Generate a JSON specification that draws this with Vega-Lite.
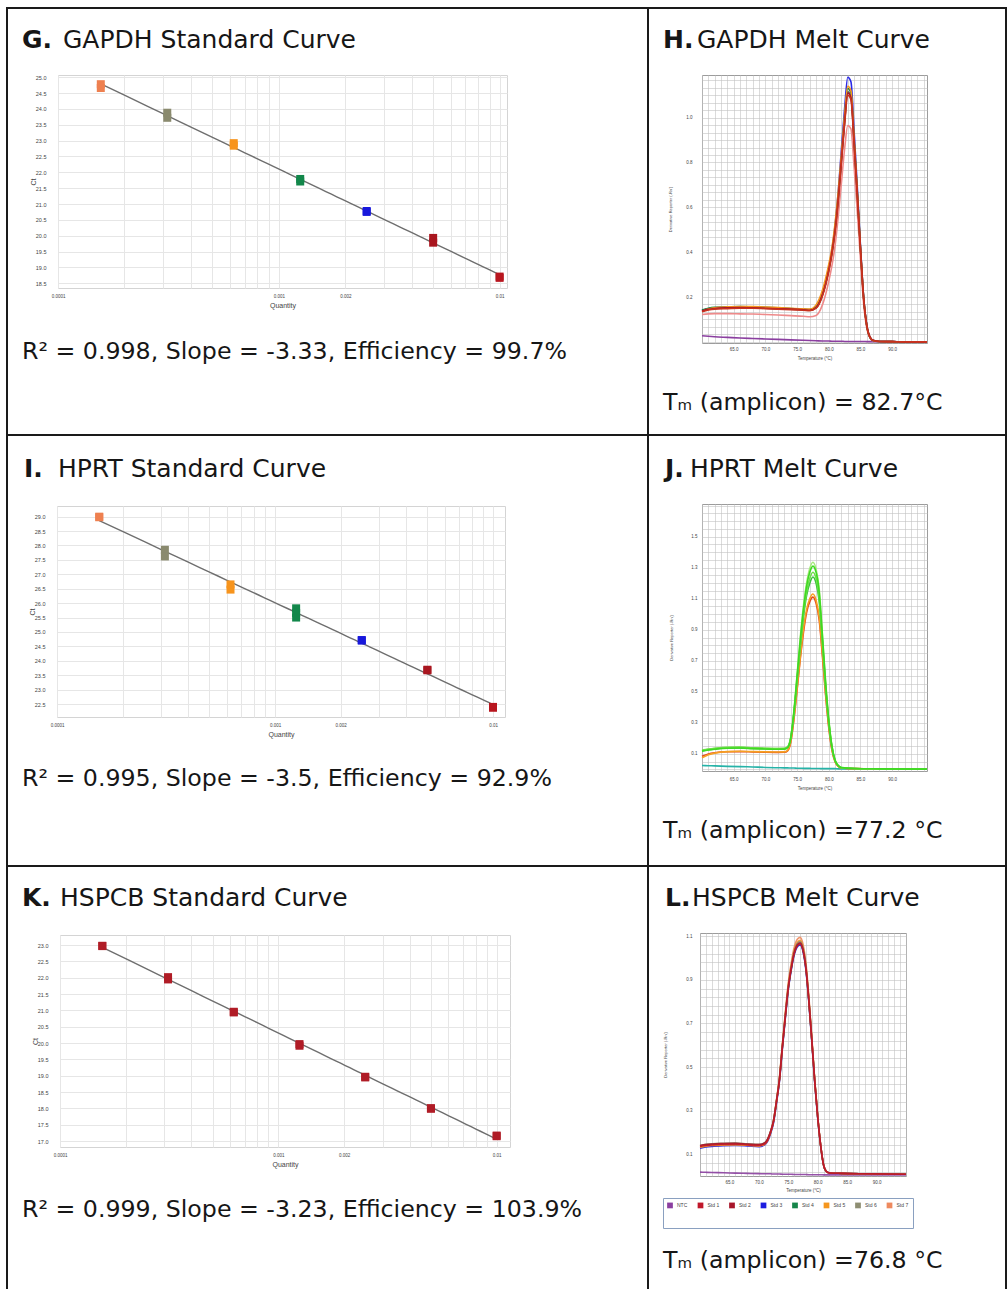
{
"$schema": "https://vega.github.io/schema/vega-lite/v6.json",
"padding": {"left": 6, "top": 7, "right": 0, "bottom": 0},
"background": "white",
"spacing": 0,
"resolve": {"scale": {"color": "independent"}},
"config": {
  "view": {"stroke": null},
  "font": "Liberation Sans",
  "title": {"font": "DejaVu Sans", "color": "#161616", "fontWeight": "normal", "frame": "group", "anchor": "start"},
  "axis": {"labelFont": "Liberation Sans", "titleFont": "Liberation Sans", "labelColor": "#444", "titleColor": "#444", "titleFontWeight": "normal", "ticks": false, "domain": false, "labelFlush": false, "labelOverlap": false, "grid": true}
},
"vconcat": [
{"width": 1001, "height": 2, "data": {"values": []}, "mark": "point", "view": {"fill": "#1a1a1a"}},
{"hconcat": [
 {"width": 2, "height": 425, "data": {"values": []}, "mark": "point", "view": {"fill": "#1a1a1a"}},
 {"columns": 2, "bounds": "flush", "align": "each", "spacing": 0,
  "resolve": {"scale": {"color": "independent"}},
  "concat": [
   {"width": 50, "height": 66, "data": {"values": []}, "mark": "point",
    "title": {"text": "G.", "fontWeight": "bold", "fontSize": 25, "offset": -44, "dx": 14}},
   {"width": 589, "height": 66, "data": {"values": []}, "mark": "point",
    "title": {"text": "GAPDH Standard Curve", "fontSize": 25, "offset": -44, "dx": 5}},
   {"width": 50, "height": 213, "data": {"values": []}, "mark": "point"},
   {"width": 449, "height": 213, "view": {"stroke": "#d4d4d4"},
    "data": {"values": [
     {"q": 0.00015625, "ct": 24.78, "s": "Std 7"}, {"q": 0.00015625, "ct": 24.66, "s": "Std 7"},
     {"q": 0.0003125, "ct": 23.88, "s": "Std 6"}, {"q": 0.0003125, "ct": 23.72, "s": "Std 6"},
     {"q": 0.000625, "ct": 22.92, "s": "Std 5"}, {"q": 0.000625, "ct": 22.84, "s": "Std 5"},
     {"q": 0.00125, "ct": 21.79, "s": "Std 4"}, {"q": 0.00125, "ct": 21.71, "s": "Std 4"},
     {"q": 0.0025, "ct": 20.78, "s": "Std 3"}, {"q": 0.0025, "ct": 20.75, "s": "Std 3"},
     {"q": 0.005, "ct": 19.93, "s": "Std 2"}, {"q": 0.005, "ct": 19.78, "s": "Std 2"},
     {"q": 0.01, "ct": 18.71, "s": "Std 1"}, {"q": 0.01, "ct": 18.67, "s": "Std 1"}
    ]},
    "encoding": {
     "x": {"field": "q", "type": "quantitative", "scale": {"type": "log", "domain": [0.0001, 0.0108], "nice": false},
      "axis": {"values": [0.0001,0.0002,0.0003,0.0004,0.0005,0.0006,0.0007,0.0008,0.0009,0.001,0.002,0.003,0.004,0.005,0.006,0.007,0.008,0.009,0.01], "format": "~g",
       "labelExpr": "datum.value == 0.0001 || datum.value == 0.001 || datum.value == 0.002 || datum.value == 0.01 ? datum.label : ''",
       "gridColor": "#e6e6e6", "labelFontSize": 4.5, "labelPadding": 5, "title": "Quantity", "titleFontSize": 7, "titlePadding": 4}},
     "y": {"field": "ct", "type": "quantitative", "scale": {"domain": [18.35, 25.07], "nice": false, "zero": false},
      "axis": {"values": [18.5,19,19.5,20,20.5,21,21.5,22,22.5,23,23.5,24,24.5,25], "format": ".1f", "gridColor": "#e6e6e6", "labelFontSize": 5.5, "labelPadding": 12, "title": "Ct", "titleFontSize": 7, "titlePadding": -1}}
    },
    "layer": [
     {"transform": [{"regression": "ct", "on": "q", "method": "log"}], "mark": {"type": "line", "color": "#6e6e6e", "strokeWidth": 1.4}},
     {"mark": {"type": "square", "size": 64, "opacity": 1},
      "encoding": {"color": {"field": "s", "type": "nominal", "legend": null,
       "scale": {"domain": ["Std 1","Std 2","Std 3","Std 4","Std 5","Std 6","Std 7"], "range": ["#b8161f","#a9161f","#1818dc","#12874a","#f7941d","#8a8a6e","#ee8050"]}}}}
    ]},
   {"width": 50, "height": 146, "data": {"values": []}, "mark": "point",
    "title": {"text": "R² = 0.998, Slope = -3.33, Efficiency = 99.7%", "fontSize": 23.7, "offset": -75.6, "dx": 14}},
   {"width": 589, "height": 146, "data": {"values": []}, "mark": "point"}
  ]},
 {"width": 2, "height": 425, "data": {"values": []}, "mark": "point", "view": {"fill": "#1a1a1a"}},
 {"columns": 2, "bounds": "flush", "align": "each", "spacing": 0,
  "resolve": {"scale": {"color": "independent"}},
  "concat": [
   {"width": 53, "height": 66, "data": {"values": []}, "mark": "point",
    "title": {"text": "H.", "fontWeight": "bold", "fontSize": 25, "offset": -44, "dx": 14}},
   {"width": 303, "height": 66, "data": {"values": []}, "mark": "point",
    "title": {"text": "GAPDH Melt Curve", "fontSize": 25, "offset": -44, "dx": -5}},
   {"width": 53, "height": 268, "data": {"values": []}, "mark": "point"},
   {"width": 225, "height": 268, "view": {"stroke": "#9c9c9c"},
    "data": {"values": [
     {"t": 60, "n": 0.027, "s7": 0.122, "s3": 0.140, "s6": 0.140, "s4": 0.142, "s5": 0.136, "s2": 0.138, "s1": 0.134},
     {"t": 61, "n": 0.025, "s7": 0.125, "s3": 0.148, "s6": 0.147, "s4": 0.150, "s5": 0.146, "s2": 0.145, "s1": 0.142},
     {"t": 62, "n": 0.023, "s7": 0.126, "s3": 0.152, "s6": 0.150, "s4": 0.154, "s5": 0.152, "s2": 0.149, "s1": 0.146},
     {"t": 64, "n": 0.020, "s7": 0.126, "s3": 0.154, "s6": 0.152, "s4": 0.156, "s5": 0.156, "s2": 0.152, "s1": 0.148},
     {"t": 66, "n": 0.017, "s7": 0.125, "s3": 0.155, "s6": 0.153, "s4": 0.157, "s5": 0.158, "s2": 0.153, "s1": 0.150},
     {"t": 68, "n": 0.015, "s7": 0.124, "s3": 0.154, "s6": 0.152, "s4": 0.156, "s5": 0.157, "s2": 0.152, "s1": 0.150},
     {"t": 70, "n": 0.013, "s7": 0.122, "s3": 0.152, "s6": 0.150, "s4": 0.154, "s5": 0.155, "s2": 0.150, "s1": 0.148},
     {"t": 72, "n": 0.011, "s7": 0.120, "s3": 0.150, "s6": 0.148, "s4": 0.152, "s5": 0.153, "s2": 0.148, "s1": 0.146},
     {"t": 74, "n": 0.009, "s7": 0.117, "s3": 0.148, "s6": 0.146, "s4": 0.149, "s5": 0.150, "s2": 0.146, "s1": 0.144},
     {"t": 76, "n": 0.007, "s7": 0.114, "s3": 0.145, "s6": 0.143, "s4": 0.146, "s5": 0.147, "s2": 0.143, "s1": 0.141},
     {"t": 77, "n": 0.006, "s7": 0.112, "s3": 0.143, "s6": 0.141, "s4": 0.144, "s5": 0.146, "s2": 0.141, "s1": 0.139},
     {"t": 78, "n": 0.005, "s7": 0.118, "s3": 0.155, "s6": 0.152, "s4": 0.156, "s5": 0.165, "s2": 0.153, "s1": 0.150},
     {"t": 79, "n": 0.004, "s7": 0.165, "s3": 0.215, "s6": 0.208, "s4": 0.215, "s5": 0.23, "s2": 0.21, "s1": 0.205},
     {"t": 80, "n": 0.004, "s7": 0.27, "s3": 0.33, "s6": 0.32, "s4": 0.33, "s5": 0.345, "s2": 0.32, "s1": 0.315},
     {"t": 80.5, "n": 0.003, "s7": 0.34, "s3": 0.41, "s6": 0.395, "s4": 0.40, "s5": 0.42, "s2": 0.40, "s1": 0.39},
     {"t": 81, "n": 0.003, "s7": 0.43, "s3": 0.52, "s6": 0.50, "s4": 0.51, "s5": 0.53, "s2": 0.50, "s1": 0.49},
     {"t": 81.5, "n": 0.003, "s7": 0.56, "s3": 0.67, "s6": 0.64, "s4": 0.65, "s5": 0.67, "s2": 0.64, "s1": 0.63},
     {"t": 82, "n": 0.003, "s7": 0.71, "s3": 0.86, "s6": 0.81, "s4": 0.82, "s5": 0.84, "s2": 0.81, "s1": 0.80},
     {"t": 82.5, "n": 0.002, "s7": 0.86, "s3": 1.04, "s6": 0.98, "s4": 1.00, "s5": 1.01, "s2": 0.98, "s1": 0.97},
     {"t": 83, "n": 0.002, "s7": 0.965, "s3": 1.18, "s6": 1.115, "s4": 1.13, "s5": 1.14, "s2": 1.11, "s1": 1.10},
     {"t": 83.5, "n": 0.002, "s7": 0.95, "s3": 1.16, "s6": 1.095, "s4": 1.11, "s5": 1.12, "s2": 1.09, "s1": 1.08},
     {"t": 84, "n": 0.002, "s7": 0.78, "s3": 0.94, "s6": 0.89, "s4": 0.90, "s5": 0.91, "s2": 0.89, "s1": 0.88},
     {"t": 84.5, "n": 0.002, "s7": 0.58, "s3": 0.69, "s6": 0.66, "s4": 0.67, "s5": 0.67, "s2": 0.66, "s1": 0.65},
     {"t": 85, "n": 0.002, "s7": 0.37, "s3": 0.43, "s6": 0.415, "s4": 0.42, "s5": 0.42, "s2": 0.42, "s1": 0.41},
     {"t": 85.5, "n": 0.002, "s7": 0.17, "s3": 0.20, "s6": 0.195, "s4": 0.20, "s5": 0.20, "s2": 0.20, "s1": 0.19},
     {"t": 86, "n": 0.001, "s7": 0.06, "s3": 0.075, "s6": 0.072, "s4": 0.072, "s5": 0.072, "s2": 0.075, "s1": 0.07},
     {"t": 86.5, "n": 0.001, "s7": 0.018, "s3": 0.02, "s6": 0.02, "s4": 0.02, "s5": 0.02, "s2": 0.022, "s1": 0.02},
     {"t": 87, "n": 0.001, "s7": 0.005, "s3": 0.006, "s6": 0.006, "s4": 0.006, "s5": 0.006, "s2": 0.007, "s1": 0.006},
     {"t": 88, "n": 0.001, "s7": 0.002, "s3": 0.002, "s6": 0.002, "s4": 0.002, "s5": 0.002, "s2": 0.002, "s1": 0.002},
     {"t": 90, "n": 0.001, "s7": 0.001, "s3": 0.001, "s6": 0.001, "s4": 0.001, "s5": 0.001, "s2": 0.001, "s1": 0.001},
     {"t": 92, "n": 0, "s7": 0, "s3": 0, "s6": 0, "s4": 0, "s5": 0, "s2": 0, "s1": 0},
     {"t": 95.5, "n": 0, "s7": 0, "s3": 0, "s6": 0, "s4": 0, "s5": 0, "s2": 0, "s1": 0}
    ]},
    "transform": [{"fold": ["n","s7","s3","s6","s4","s5","s2","s1"], "as": ["s","v"]}],
    "mark": {"type": "line", "interpolate": "monotone", "strokeWidth": 1.6},
    "encoding": {
     "x": {"field": "t", "type": "quantitative", "scale": {"domain": [60, 95.5], "nice": false, "zero": false},
      "axis": {"values": [60,61,62,63,64,65,66,67,68,69,70,71,72,73,74,75,76,77,78,79,80,81,82,83,84,85,86,87,88,89,90,91,92,93,94,95],
       "labelExpr": "datum.value % 5 == 0 && datum.value > 60 && datum.value < 95 ? format(datum.value, '.1f') : ''",
       "gridColor": "#c2c2c2", "gridWidth": 0.6, "labelFontSize": 4.5, "labelPadding": 3, "title": "Temperature (°C)", "titleFontSize": 4.5, "titlePadding": 5}},
     "y": {"field": "v", "type": "quantitative", "scale": {"domain": [-0.005, 1.19], "nice": false, "zero": false},
      "axis": {"values": [0,0.0333,0.0667,0.1,0.1333,0.1667,0.2,0.2333,0.2667,0.3,0.3333,0.3667,0.4,0.4333,0.4667,0.5,0.5333,0.5667,0.6,0.6333,0.6667,0.7,0.7333,0.7667,0.8,0.8333,0.8667,0.9,0.9333,0.9667,1,1.0333,1.0667,1.1,1.1333,1.1667],
       "labelExpr": "indexof([0.2,0.4,0.6,0.8,1], datum.value) >= 0 ? format(datum.value, '.1f') : ''",
       "gridColor": "#c2c2c2", "gridWidth": 0.6, "labelFontSize": 4.5, "labelPadding": 10, "title": "Derivative Reporter (-Rn')", "titleFontSize": 4, "titlePadding": 13}},
     "color": {"field": "s", "type": "nominal", "legend": null,
      "scale": {"domain": ["n","s1","s2","s3","s4","s5","s6","s7"], "range": ["#8b3fa0","#c8321e","#a8162a","#2a2ae6","#17864a","#f5961e","#6e5a4a","#ee8a8a"]}}
    }},
   {"width": 53, "height": 91, "data": {"values": []}, "mark": "point",
    "title": {"text": "Tₘ (amplicon) = 82.7°C", "fontSize": 23.7, "offset": -71.6, "dx": 14}},
   {"width": 303, "height": 91, "data": {"values": []}, "mark": "point"}
  ]},
 {"width": 2, "height": 425, "data": {"values": []}, "mark": "point", "view": {"fill": "#1a1a1a"}}
], "spacing": 0, "resolve": {"scale": {"color": "independent"}}},
{"width": 1001, "height": 2, "data": {"values": []}, "mark": "point", "view": {"fill": "#1a1a1a"}},
{"hconcat": [
 {"width": 2, "height": 429, "data": {"values": []}, "mark": "point", "view": {"fill": "#1a1a1a"}},
 {"columns": 2, "bounds": "flush", "align": "each", "spacing": 0,
  "resolve": {"scale": {"color": "independent"}},
  "concat": [
   {"width": 49, "height": 70, "data": {"values": []}, "mark": "point",
    "title": {"text": "I.", "fontWeight": "bold", "fontSize": 25, "offset": -46, "dx": 16}},
   {"width": 590, "height": 70, "data": {"values": []}, "mark": "point",
    "title": {"text": "HPRT Standard Curve", "fontSize": 25, "offset": -46, "dx": 1}},
   {"width": 49, "height": 211, "data": {"values": []}, "mark": "point"},
   {"width": 448, "height": 211, "view": {"stroke": "#d4d4d4"},
    "data": {"values": [
     {"q": 0.00015625, "ct": 29.0, "s": "Std 7"}, {"q": 0.00015625, "ct": 28.98, "s": "Std 7"},
     {"q": 0.0003125, "ct": 27.85, "s": "Std 6"}, {"q": 0.0003125, "ct": 27.62, "s": "Std 6"},
     {"q": 0.000625, "ct": 26.65, "s": "Std 5"}, {"q": 0.000625, "ct": 26.47, "s": "Std 5"},
     {"q": 0.00125, "ct": 25.82, "s": "Std 4"}, {"q": 0.00125, "ct": 25.66, "s": "Std 4"}, {"q": 0.00125, "ct": 25.5, "s": "Std 4"},
     {"q": 0.0025, "ct": 24.72, "s": "Std 3"}, {"q": 0.0025, "ct": 24.70, "s": "Std 3"},
     {"q": 0.005, "ct": 23.69, "s": "Std 2"}, {"q": 0.005, "ct": 23.67, "s": "Std 2"},
     {"q": 0.01, "ct": 22.40, "s": "Std 1"}, {"q": 0.01, "ct": 22.37, "s": "Std 1"}
    ]},
    "encoding": {
     "x": {"field": "q", "type": "quantitative", "scale": {"type": "log", "domain": [0.0001, 0.01135], "nice": false},
      "axis": {"values": [0.0001,0.0002,0.0003,0.0004,0.0005,0.0006,0.0007,0.0008,0.0009,0.001,0.002,0.003,0.004,0.005,0.006,0.007,0.008,0.009,0.01], "format": "~g",
       "labelExpr": "datum.value == 0.0001 || datum.value == 0.001 || datum.value == 0.002 || datum.value == 0.01 ? datum.label : ''",
       "gridColor": "#e6e6e6", "labelFontSize": 4.5, "labelPadding": 5, "title": "Quantity", "titleFontSize": 7, "titlePadding": 4}},
     "y": {"field": "ct", "type": "quantitative", "scale": {"domain": [22.05, 29.37], "nice": false, "zero": false},
      "axis": {"values": [22.5,23,23.5,24,24.5,25,25.5,26,26.5,27,27.5,28,28.5,29], "format": ".1f", "gridColor": "#e6e6e6", "labelFontSize": 5.5, "labelPadding": 12, "title": "Ct", "titleFontSize": 7, "titlePadding": -1}}
    },
    "layer": [
     {"transform": [{"regression": "ct", "on": "q", "method": "log"}], "mark": {"type": "line", "color": "#6e6e6e", "strokeWidth": 1.4}},
     {"mark": {"type": "square", "size": 64, "opacity": 1},
      "encoding": {"color": {"field": "s", "type": "nominal", "legend": null,
       "scale": {"domain": ["Std 1","Std 2","Std 3","Std 4","Std 5","Std 6","Std 7"], "range": ["#b8161f","#a9161f","#1818dc","#12874a","#f7941d","#8a8a6e","#ee8050"]}}}}
    ]},
   {"width": 49, "height": 148, "data": {"values": []}, "mark": "point",
    "title": {"text": "R² = 0.995, Slope = -3.5, Efficiency = 92.9%", "fontSize": 23.7, "offset": -74.1, "dx": 14}},
   {"width": 590, "height": 148, "data": {"values": []}, "mark": "point"}
  ]},
 {"width": 2, "height": 429, "data": {"values": []}, "mark": "point", "view": {"fill": "#1a1a1a"}},
 {"columns": 2, "bounds": "flush", "align": "each", "spacing": 0,
  "resolve": {"scale": {"color": "independent"}},
  "concat": [
   {"width": 53, "height": 68, "data": {"values": []}, "mark": "point",
    "title": {"text": "J.", "fontWeight": "bold", "fontSize": 25, "offset": -46, "dx": 16}},
   {"width": 303, "height": 68, "data": {"values": []}, "mark": "point",
    "title": {"text": "HPRT Melt Curve", "fontSize": 25, "offset": -46, "dx": -12}},
   {"width": 53, "height": 267, "data": {"values": []}, "mark": "point"},
   {"width": 225, "height": 267, "view": {"stroke": "#9c9c9c"},
    "data": {"values": [
     {"t": 60, "n": 0.025, "r": 0.085, "o": 0.075, "g0": 0.122, "g3": 0.12, "g2": 0.125, "g1": 0.118},
     {"t": 61, "n": 0.024, "r": 0.1, "o": 0.095, "g0": 0.13, "g3": 0.127, "g2": 0.132, "g1": 0.125},
     {"t": 62, "n": 0.023, "r": 0.108, "o": 0.105, "g0": 0.135, "g3": 0.132, "g2": 0.137, "g1": 0.13},
     {"t": 64, "n": 0.02, "r": 0.114, "o": 0.115, "g0": 0.141, "g3": 0.138, "g2": 0.143, "g1": 0.137},
     {"t": 66, "n": 0.018, "r": 0.115, "o": 0.117, "g0": 0.142, "g3": 0.139, "g2": 0.144, "g1": 0.138},
     {"t": 68, "n": 0.016, "r": 0.113, "o": 0.115, "g0": 0.138, "g3": 0.136, "g2": 0.14, "g1": 0.134},
     {"t": 70, "n": 0.013, "r": 0.111, "o": 0.113, "g0": 0.136, "g3": 0.133, "g2": 0.137, "g1": 0.132},
     {"t": 72, "n": 0.011, "r": 0.11, "o": 0.112, "g0": 0.134, "g3": 0.131, "g2": 0.135, "g1": 0.13},
     {"t": 73, "n": 0.01, "r": 0.111, "o": 0.113, "g0": 0.135, "g3": 0.132, "g2": 0.136, "g1": 0.131},
     {"t": 73.5, "n": 0.01, "r": 0.12, "o": 0.122, "g0": 0.145, "g3": 0.142, "g2": 0.145, "g1": 0.14},
     {"t": 74, "n": 0.009, "r": 0.175, "o": 0.18, "g0": 0.21, "g3": 0.2, "g2": 0.2, "g1": 0.2},
     {"t": 74.5, "n": 0.009, "r": 0.32, "o": 0.33, "g0": 0.38, "g3": 0.36, "g2": 0.36, "g1": 0.37},
     {"t": 75, "n": 0.008, "r": 0.51, "o": 0.52, "g0": 0.61, "g3": 0.57, "g2": 0.58, "g1": 0.6},
     {"t": 75.5, "n": 0.008, "r": 0.71, "o": 0.72, "g0": 0.85, "g3": 0.79, "g2": 0.8, "g1": 0.83},
     {"t": 76, "n": 0.007, "r": 0.88, "o": 0.9, "g0": 1.05, "g3": 0.98, "g2": 1.0, "g1": 1.03},
     {"t": 76.5, "n": 0.007, "r": 1.01, "o": 1.03, "g0": 1.2, "g3": 1.12, "g2": 1.14, "g1": 1.18},
     {"t": 77, "n": 0.007, "r": 1.08, "o": 1.1, "g0": 1.295, "g3": 1.2, "g2": 1.23, "g1": 1.27},
     {"t": 77.5, "n": 0.006, "r": 1.11, "o": 1.13, "g0": 1.335, "g3": 1.24, "g2": 1.27, "g1": 1.31},
     {"t": 78, "n": 0.006, "r": 1.07, "o": 1.09, "g0": 1.29, "g3": 1.2, "g2": 1.23, "g1": 1.27},
     {"t": 78.5, "n": 0.006, "r": 0.96, "o": 0.98, "g0": 1.16, "g3": 1.08, "g2": 1.1, "g1": 1.14},
     {"t": 79, "n": 0.005, "r": 0.73, "o": 0.75, "g0": 0.87, "g3": 0.82, "g2": 0.83, "g1": 0.86},
     {"t": 79.5, "n": 0.005, "r": 0.48, "o": 0.49, "g0": 0.57, "g3": 0.53, "g2": 0.54, "g1": 0.56},
     {"t": 80, "n": 0.005, "r": 0.27, "o": 0.28, "g0": 0.325, "g3": 0.3, "g2": 0.31, "g1": 0.32},
     {"t": 80.5, "n": 0.005, "r": 0.125, "o": 0.13, "g0": 0.152, "g3": 0.14, "g2": 0.145, "g1": 0.15},
     {"t": 81, "n": 0.005, "r": 0.05, "o": 0.05, "g0": 0.06, "g3": 0.056, "g2": 0.058, "g1": 0.06},
     {"t": 81.5, "n": 0.004, "r": 0.02, "o": 0.02, "g0": 0.025, "g3": 0.023, "g2": 0.024, "g1": 0.025},
     {"t": 82, "n": 0.004, "r": 0.01, "o": 0.01, "g0": 0.012, "g3": 0.011, "g2": 0.011, "g1": 0.012},
     {"t": 84, "n": 0.004, "r": 0.005, "o": 0.005, "g0": 0.006, "g3": 0.006, "g2": 0.006, "g1": 0.006},
     {"t": 88, "n": 0.003, "r": 0.003, "o": 0.003, "g0": 0.004, "g3": 0.004, "g2": 0.004, "g1": 0.004},
     {"t": 95.5, "n": 0.003, "r": 0.002, "o": 0.002, "g0": 0.002, "g3": 0.002, "g2": 0.002, "g1": 0.002}
    ]},
    "transform": [{"fold": ["n","r","o","g0","g3","g2","g1"], "as": ["s","v"]}],
    "mark": {"type": "line", "interpolate": "monotone", "strokeWidth": 1.6},
    "encoding": {
     "x": {"field": "t", "type": "quantitative", "scale": {"domain": [60, 95.5], "nice": false, "zero": false},
      "axis": {"values": [60,61,62,63,64,65,66,67,68,69,70,71,72,73,74,75,76,77,78,79,80,81,82,83,84,85,86,87,88,89,90,91,92,93,94,95],
       "labelExpr": "datum.value % 5 == 0 && datum.value > 60 && datum.value < 95 ? format(datum.value, '.1f') : ''",
       "gridColor": "#c2c2c2", "gridWidth": 0.6, "labelFontSize": 4.5, "labelPadding": 5, "title": "Temperature (°C)", "titleFontSize": 4.5, "titlePadding": 5}},
     "y": {"field": "v", "type": "quantitative", "scale": {"domain": [-0.01, 1.71], "nice": false, "zero": false},
      "axis": {"values": [0,0.05,0.1,0.15,0.2,0.25,0.3,0.35,0.4,0.45,0.5,0.55,0.6,0.65,0.7,0.75,0.8,0.85,0.9,0.95,1,1.05,1.1,1.15,1.2,1.25,1.3,1.35,1.4,1.45,1.5,1.55,1.6,1.65,1.7],
       "labelExpr": "indexof([0.1,0.3,0.5,0.7,0.9,1.1,1.3,1.5], datum.value) >= 0 ? format(datum.value, '.1f') : ''",
       "gridColor": "#c2c2c2", "gridWidth": 0.6, "labelFontSize": 4.5, "labelPadding": 5, "title": "Derivative Reporter (-Rn')", "titleFontSize": 4, "titlePadding": 17}},
     "color": {"field": "s", "type": "nominal", "legend": null,
      "scale": {"domain": ["n","r","o","g0","g3","g2","g1"], "range": ["#26b3a8","#e2451f","#f5a023","#a6ea7e","#38c23a","#6ee04a","#3fd923"]}}
    }},
   {"width": 53, "height": 94, "data": {"values": []}, "mark": "point",
    "title": {"text": "Tₘ (amplicon) =77.2 °C", "fontSize": 23.7, "offset": -72.1, "dx": 14}},
   {"width": 303, "height": 94, "data": {"values": []}, "mark": "point"}
  ]},
 {"width": 2, "height": 429, "data": {"values": []}, "mark": "point", "view": {"fill": "#1a1a1a"}}
], "spacing": 0, "resolve": {"scale": {"color": "independent"}}},
{"width": 1001, "height": 2, "data": {"values": []}, "mark": "point", "view": {"fill": "#1a1a1a"}},
{"hconcat": [
 {"width": 2, "height": 422, "data": {"values": []}, "mark": "point", "view": {"fill": "#1a1a1a"}},
 {"columns": 2, "bounds": "flush", "align": "each", "spacing": 0,
  "resolve": {"scale": {"color": "independent"}},
  "concat": [
   {"width": 52, "height": 68, "data": {"values": []}, "mark": "point",
    "title": {"text": "K.", "fontWeight": "bold", "fontSize": 25, "offset": -44, "dx": 14}},
   {"width": 587, "height": 68, "data": {"values": []}, "mark": "point",
    "title": {"text": "HSPCB Standard Curve", "fontSize": 25, "offset": -44, "dx": 0}},
   {"width": 52, "height": 212, "data": {"values": []}, "mark": "point"},
   {"width": 450, "height": 212, "view": {"stroke": "#d4d4d4"},
    "data": {"values": [
     {"q": 0.00015625, "ct": 22.98}, {"q": 0.00015625, "ct": 22.97},
     {"q": 0.0003125, "ct": 22.02}, {"q": 0.0003125, "ct": 21.95},
     {"q": 0.000625, "ct": 20.96}, {"q": 0.000625, "ct": 20.94},
     {"q": 0.00125, "ct": 19.97}, {"q": 0.00125, "ct": 19.92},
     {"q": 0.0025, "ct": 18.97}, {"q": 0.0025, "ct": 18.95},
     {"q": 0.005, "ct": 17.99}, {"q": 0.005, "ct": 18.01},
     {"q": 0.01, "ct": 17.17}, {"q": 0.01, "ct": 17.15}
    ]},
    "encoding": {
     "x": {"field": "q", "type": "quantitative", "scale": {"type": "log", "domain": [0.0001, 0.01151], "nice": false},
      "axis": {"values": [0.0001,0.0002,0.0003,0.0004,0.0005,0.0006,0.0007,0.0008,0.0009,0.001,0.002,0.003,0.004,0.005,0.006,0.007,0.008,0.009,0.01], "format": "~g",
       "labelExpr": "datum.value == 0.0001 || datum.value == 0.001 || datum.value == 0.002 || datum.value == 0.01 ? datum.label : ''",
       "gridColor": "#e6e6e6", "labelFontSize": 4.5, "labelPadding": 5, "title": "Quantity", "titleFontSize": 7, "titlePadding": 4}},
     "y": {"field": "ct", "type": "quantitative", "scale": {"domain": [16.82, 23.31], "nice": false, "zero": false},
      "axis": {"values": [17,17.5,18,18.5,19,19.5,20,20.5,21,21.5,22,22.5,23], "format": ".1f", "gridColor": "#e6e6e6", "labelFontSize": 5.5, "labelPadding": 12, "title": "Ct", "titleFontSize": 7, "titlePadding": -1}}
    },
    "layer": [
     {"transform": [{"regression": "ct", "on": "q", "method": "log"}], "mark": {"type": "line", "color": "#6e6e6e", "strokeWidth": 1.4}},
     {"mark": {"type": "square", "size": 64, "opacity": 1, "color": "#b01c26"}}
    ]},
   {"width": 52, "height": 142, "data": {"values": []}, "mark": "point",
    "title": {"text": "R² = 0.999, Slope = -3.23, Efficiency = 103.9%", "fontSize": 23.7, "offset": -75.1, "dx": 14}},
   {"width": 587, "height": 142, "data": {"values": []}, "mark": "point"}
  ]},
 {"width": 2, "height": 422, "data": {"values": []}, "mark": "point", "view": {"fill": "#1a1a1a"}},
 {"columns": 2, "bounds": "flush", "align": "each", "spacing": 0,
  "resolve": {"scale": {"color": "independent"}},
  "concat": [
   {"width": 51, "height": 66, "data": {"values": []}, "mark": "point",
    "title": {"text": "L.", "fontWeight": "bold", "fontSize": 25, "offset": -44, "dx": 16}},
   {"width": 305, "height": 66, "data": {"values": []}, "mark": "point",
    "title": {"text": "HSPCB Melt Curve", "fontSize": 25, "offset": -44, "dx": -8}},
   {"width": 51, "height": 243, "data": {"values": []}, "mark": "point"},
   {"width": 206, "height": 243, "view": {"stroke": "#9c9c9c"},
    "data": {"values": [
     {"t": 60, "n": 0.018, "s1": 0.136, "s2": 0.14, "s3": 0.128, "s4": 0.138, "s5": 0.132, "s6": 0.14, "s7": 0.134},
     {"t": 61, "n": 0.017, "s1": 0.14, "s2": 0.144, "s3": 0.133, "s4": 0.143, "s5": 0.137, "s6": 0.145, "s7": 0.138},
     {"t": 62, "n": 0.016, "s1": 0.143, "s2": 0.147, "s3": 0.136, "s4": 0.146, "s5": 0.14, "s6": 0.148, "s7": 0.141},
     {"t": 64, "n": 0.015, "s1": 0.145, "s2": 0.149, "s3": 0.139, "s4": 0.148, "s5": 0.143, "s6": 0.15, "s7": 0.143},
     {"t": 66, "n": 0.013, "s1": 0.146, "s2": 0.15, "s3": 0.14, "s4": 0.149, "s5": 0.144, "s6": 0.151, "s7": 0.144},
     {"t": 68, "n": 0.012, "s1": 0.143, "s2": 0.147, "s3": 0.138, "s4": 0.146, "s5": 0.141, "s6": 0.148, "s7": 0.141},
     {"t": 70, "n": 0.011, "s1": 0.14, "s2": 0.144, "s3": 0.135, "s4": 0.142, "s5": 0.138, "s6": 0.145, "s7": 0.138},
     {"t": 71, "n": 0.01, "s1": 0.148, "s2": 0.152, "s3": 0.143, "s4": 0.15, "s5": 0.147, "s6": 0.153, "s7": 0.147},
     {"t": 71.5, "n": 0.01, "s1": 0.165, "s2": 0.17, "s3": 0.16, "s4": 0.167, "s5": 0.165, "s6": 0.17, "s7": 0.166},
     {"t": 72, "n": 0.01, "s1": 0.2, "s2": 0.205, "s3": 0.195, "s4": 0.202, "s5": 0.202, "s6": 0.206, "s7": 0.204},
     {"t": 72.5, "n": 0.009, "s1": 0.25, "s2": 0.255, "s3": 0.245, "s4": 0.252, "s5": 0.254, "s6": 0.256, "s7": 0.257},
     {"t": 73, "n": 0.009, "s1": 0.34, "s2": 0.345, "s3": 0.335, "s4": 0.342, "s5": 0.346, "s6": 0.346, "s7": 0.35},
     {"t": 73.5, "n": 0.009, "s1": 0.44, "s2": 0.445, "s3": 0.435, "s4": 0.442, "s5": 0.448, "s6": 0.447, "s7": 0.453},
     {"t": 74, "n": 0.008, "s1": 0.59, "s2": 0.595, "s3": 0.585, "s4": 0.592, "s5": 0.6, "s6": 0.598, "s7": 0.607},
     {"t": 74.5, "n": 0.008, "s1": 0.73, "s2": 0.735, "s3": 0.725, "s4": 0.732, "s5": 0.742, "s6": 0.74, "s7": 0.751},
     {"t": 75, "n": 0.008, "s1": 0.86, "s2": 0.865, "s3": 0.855, "s4": 0.862, "s5": 0.874, "s6": 0.87, "s7": 0.885},
     {"t": 75.5, "n": 0.008, "s1": 0.95, "s2": 0.955, "s3": 0.945, "s4": 0.952, "s5": 0.965, "s6": 0.96, "s7": 0.977},
     {"t": 76, "n": 0.007, "s1": 1.02, "s2": 1.025, "s3": 1.015, "s4": 1.022, "s5": 1.036, "s6": 1.03, "s7": 1.049},
     {"t": 76.5, "n": 0.007, "s1": 1.055, "s2": 1.06, "s3": 1.05, "s4": 1.058, "s5": 1.071, "s6": 1.066, "s7": 1.085},
     {"t": 77, "n": 0.007, "s1": 1.065, "s2": 1.07, "s3": 1.06, "s4": 1.068, "s5": 1.081, "s6": 1.076, "s7": 1.095},
     {"t": 77.5, "n": 0.007, "s1": 1.035, "s2": 1.04, "s3": 1.03, "s4": 1.038, "s5": 1.05, "s6": 1.046, "s7": 1.064},
     {"t": 78, "n": 0.007, "s1": 0.95, "s2": 0.955, "s3": 0.945, "s4": 0.952, "s5": 0.963, "s6": 0.96, "s7": 0.976},
     {"t": 78.5, "n": 0.006, "s1": 0.8, "s2": 0.805, "s3": 0.795, "s4": 0.802, "s5": 0.81, "s6": 0.808, "s7": 0.822},
     {"t": 79, "n": 0.006, "s1": 0.62, "s2": 0.625, "s3": 0.615, "s4": 0.622, "s5": 0.627, "s6": 0.626, "s7": 0.636},
     {"t": 79.5, "n": 0.006, "s1": 0.43, "s2": 0.435, "s3": 0.425, "s4": 0.432, "s5": 0.435, "s6": 0.434, "s7": 0.44},
     {"t": 80, "n": 0.006, "s1": 0.27, "s2": 0.272, "s3": 0.265, "s4": 0.27, "s5": 0.272, "s6": 0.272, "s7": 0.276},
     {"t": 80.5, "n": 0.006, "s1": 0.14, "s2": 0.14, "s3": 0.138, "s4": 0.14, "s5": 0.14, "s6": 0.14, "s7": 0.143},
     {"t": 81, "n": 0.005, "s1": 0.05, "s2": 0.05, "s3": 0.05, "s4": 0.05, "s5": 0.05, "s6": 0.05, "s7": 0.051},
     {"t": 81.5, "n": 0.005, "s1": 0.02, "s2": 0.02, "s3": 0.02, "s4": 0.02, "s5": 0.02, "s6": 0.02, "s7": 0.02},
     {"t": 82, "n": 0.005, "s1": 0.014, "s2": 0.014, "s3": 0.014, "s4": 0.014, "s5": 0.014, "s6": 0.014, "s7": 0.014},
     {"t": 84, "n": 0.005, "s1": 0.012, "s2": 0.012, "s3": 0.012, "s4": 0.012, "s5": 0.012, "s6": 0.012, "s7": 0.012},
     {"t": 88, "n": 0.005, "s1": 0.01, "s2": 0.01, "s3": 0.01, "s4": 0.01, "s5": 0.01, "s6": 0.01, "s7": 0.01},
     {"t": 95, "n": 0.005, "s1": 0.008, "s2": 0.008, "s3": 0.008, "s4": 0.008, "s5": 0.008, "s6": 0.008, "s7": 0.008}
    ]},
    "transform": [{"fold": ["n","s3","s4","s7","s5","s6","s2","s1"], "as": ["s","v"]}],
    "mark": {"type": "line", "interpolate": "monotone", "strokeWidth": 1.6, "strokeOpacity": 0.9},
    "encoding": {
     "x": {"field": "t", "type": "quantitative", "scale": {"domain": [60, 95], "nice": false, "zero": false},
      "axis": {"values": [60,61,62,63,64,65,66,67,68,69,70,71,72,73,74,75,76,77,78,79,80,81,82,83,84,85,86,87,88,89,90,91,92,93,94,95],
       "labelExpr": "datum.value % 5 == 0 && datum.value > 60 && datum.value < 95 ? format(datum.value, '.1f') : ''",
       "gridColor": "#c2c2c2", "gridWidth": 0.6, "labelFontSize": 4.5, "labelPadding": 3, "title": "Temperature (°C)", "titleFontSize": 4.5, "titlePadding": 4}},
     "y": {"field": "v", "type": "quantitative", "scale": {"domain": [0, 1.115], "nice": false, "zero": false},
      "axis": {"values": [0.02,0.06,0.1,0.14,0.18,0.22,0.26,0.3,0.34,0.38,0.42,0.46,0.5,0.54,0.58,0.62,0.66,0.7,0.74,0.78,0.82,0.86,0.9,0.94,0.98,1.02,1.06,1.1],
       "labelExpr": "indexof([0.1,0.3,0.5,0.7,0.9,1.1], datum.value) >= 0 ? format(datum.value, '.1f') : ''",
       "gridColor": "#c2c2c2", "gridWidth": 0.6, "labelFontSize": 4.5, "labelPadding": 8, "title": "Derivative Reporter (-Rn')", "titleFontSize": 4, "titlePadding": 18}},
     "color": {"field": "s", "type": "nominal",
      "scale": {"domain": ["n","s1","s2","s3","s4","s5","s6","s7"], "range": ["#8b3fa0","#c0182a","#a8162a","#1c1ce0","#17864a","#f5961e","#8e8e72","#ee8a5e"]},
      "legend": {"orient": "none", "legendX": -37, "legendY": 265, "direction": "horizontal", "columns": 8,
       "title": " ", "titleOrient": "bottom", "titleFontSize": 8, "titlePadding": 2,
       "symbolType": "square", "symbolSize": 5, "symbolStrokeWidth": 3.5, "labelFontSize": 5, "labelColor": "#444", "labelOffset": 4, "columnPadding": 3.5, "padding": 4,
       "strokeColor": "#8aa0c0", "labelExpr": "datum.label == 'n' ? 'NTC' : 'Std ' + slice(datum.label, 1)"}}
    }},
   {"width": 51, "height": 113, "data": {"values": []}, "mark": "point",
    "title": {"text": "Tₘ (amplicon) =76.8 °C", "fontSize": 23.7, "offset": -97.1, "dx": 14}},
   {"width": 305, "height": 113, "data": {"values": []}, "mark": "point"}
  ]},
 {"width": 2, "height": 422, "data": {"values": []}, "mark": "point", "view": {"fill": "#1a1a1a"}}
], "spacing": 0, "resolve": {"scale": {"color": "independent"}}}
]
}
